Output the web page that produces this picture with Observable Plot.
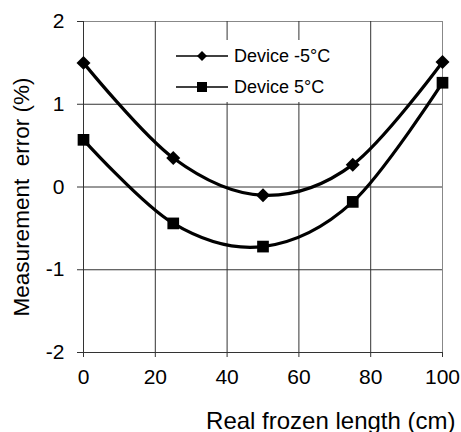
<!DOCTYPE html>
<html>
<head>
<meta charset="utf-8">
<script src="https://cdn.jsdelivr.net/npm/d3@7"></script>
<script src="https://cdn.jsdelivr.net/npm/@observablehq/plot@0.6"></script>
<style>
  html, body { margin: 0; padding: 0; background: #fff; }
  #wrap { position: relative; width: 461px; height: 432px; font-family: "Liberation Sans", Arial, sans-serif; }
  #legend { position: absolute; left: 170px; top: 40px; width: 175px; height: 62px; background: #fff; }
  .row { position: absolute; left: 0; height: 20px; display: flex; align-items: center; font-size: 18px; color: #000; }
  .row svg { margin-left: 6px; margin-right: 6px; }
</style>
</head>
<body>
<div id="wrap"></div>
<script>
const lengths = [0, 25, 50, 75, 100];
const deviceMinus5 = [1.5, 0.35, -0.1, 0.27, 1.51];
const devicePlus5 = [0.57, -0.44, -0.72, -0.18, 1.26];
const seriesNames = ["Device -5°C", "Device 5°C"];
const seriesSymbols = ["diamond2", "square"];
const xTicks = [0, 20, 40, 60, 80, 100];
const yTicks = [-2, -1, 0, 1, 2];
const xLabel = "Real frozen length (cm)";
const yLabel = "Measurement  error (%)";

const rowsA = lengths.map((x, i) => ({x, y: deviceMinus5[i]}));
const rowsB = lengths.map((x, i) => ({x, y: devicePlus5[i]}));

const chart = Plot.plot({
  width: 461,
  height: 432,
  marginLeft: 83,
  marginRight: 19,
  marginTop: 21,
  marginBottom: 80,
  style: {fontFamily: "Liberation Sans, Arial, sans-serif", fontSize: "21px", color: "#000", background: "#fff", overflow: "visible"},
  x: {domain: [0, 100]},
  y: {domain: [-2, 2]},
  marks: [
    Plot.frame({stroke: "#888"}),
    Plot.gridX(xTicks.filter(d => d !== 100), {stroke: "#333", strokeOpacity: 1}),
    Plot.gridY(yTicks.filter(d => d !== 2), {stroke: "#333", strokeOpacity: 1}),
    Plot.axisX(xTicks, {tickSize: 5, tickPadding: 12, label: null, stroke: "#333", tickFormat: d => String(d), fontSize: 21}),
    Plot.axisY(yTicks, {tickSize: 6, tickPadding: 13, label: null, stroke: "#333", tickFormat: d => String(d), fontSize: 21}),
    Plot.line(rowsA, {x: "x", y: "y", curve: "catmull-rom", tension: 0, stroke: "#000", strokeWidth: 3.2}),
    Plot.line(rowsB, {x: "x", y: "y", curve: "catmull-rom", tension: 0, stroke: "#000", strokeWidth: 3.2}),
    Plot.dot(rowsA, {x: "x", y: "y", symbol: seriesSymbols[0], r: 6.3, fill: "#000", stroke: "none"}),
    Plot.dot(rowsB, {x: "x", y: "y", symbol: seriesSymbols[1], r: 6.6, fill: "#000", stroke: "none"}),
    Plot.text([xLabel], {text: d => d, frameAnchor: "bottom-right", textAnchor: "end", dx: 13, dy: 76, fontSize: 24}),
    Plot.text([yLabel], {text: d => d, frameAnchor: "left", textAnchor: "middle", rotate: -90, dx: -61.5, dy: 10, fontSize: 22.5})
  ]
});

const wrap = document.getElementById("wrap");
wrap.appendChild(chart);

const legend = document.createElement("div");
legend.id = "legend";
const rowTops = [6, 37];
seriesNames.forEach((name, i) => {
  const row = document.createElement("div");
  row.className = "row";
  row.style.top = rowTops[i] + "px";
  const sym = d3.symbol(i === 0 ? d3.symbolDiamond2 : d3.symbolSquare, i === 0 ? 64 : 100)();
  row.innerHTML = `<svg width="52" height="20" viewBox="0 0 52 20"><line x1="0" x2="52" y1="10" y2="10" stroke="#000" stroke-width="1.6"/><path d="${sym}" transform="translate(26,10)" fill="#000"/></svg><span>${name}</span>`;
  legend.appendChild(row);
});
wrap.appendChild(legend);
</script>
</body>
</html>
